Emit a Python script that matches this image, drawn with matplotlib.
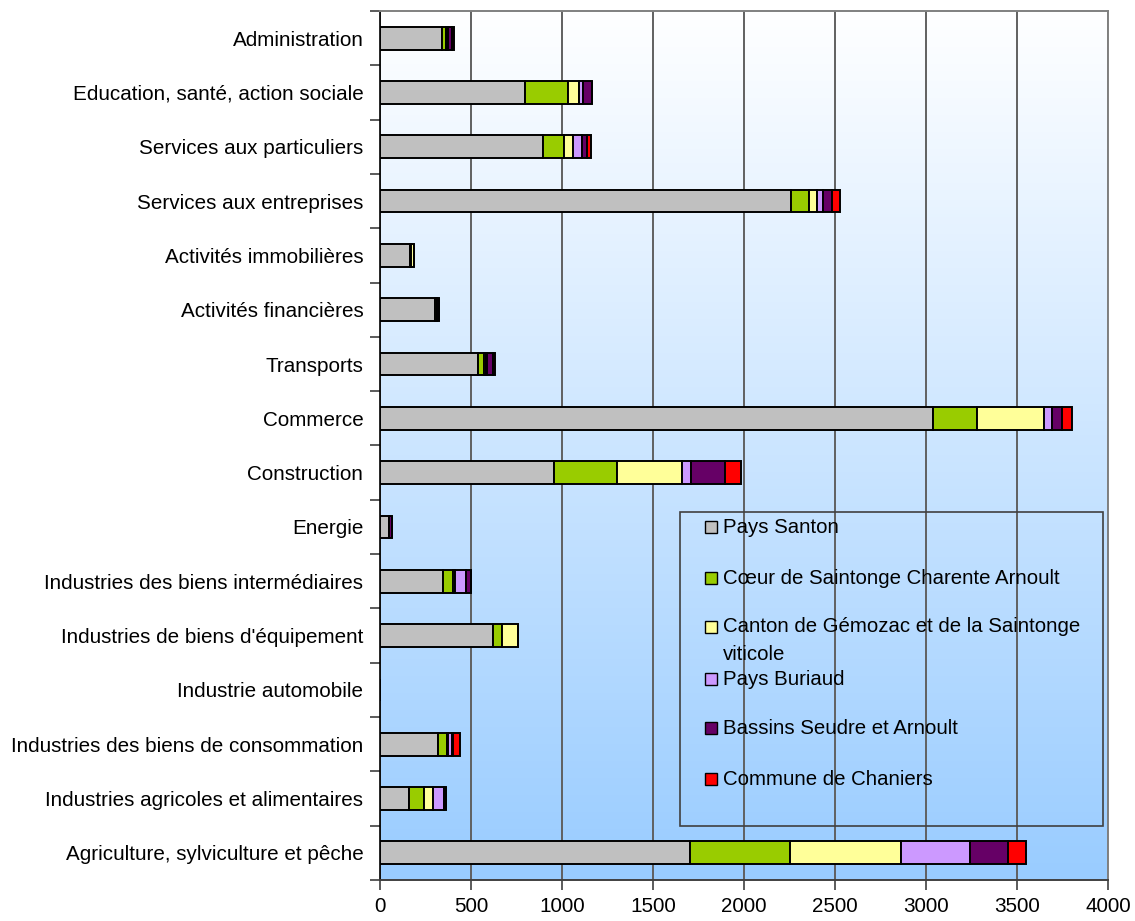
import numpy as np
import matplotlib.pyplot as plt
from matplotlib.patches import Rectangle

plt.rcParams['font.family'] = ['Liberation Sans', 'DejaVu Sans']

categories = [
    "Administration",
    "Education, santé, action sociale",
    "Services aux particuliers",
    "Services aux entreprises",
    "Activités immobilières",
    "Activités financières",
    "Transports",
    "Commerce",
    "Construction",
    "Energie",
    "Industries des biens intermédiaires",
    "Industries de biens d'équipement",
    "Industrie automobile",
    "Industries des biens de consommation",
    "Industries agricoles et alimentaires",
    "Agriculture, sylviculture et pêche",
]

pays_santon = [340, 795, 893, 2260, 163, 300, 538, 3036, 955, 50, 344, 620, 0, 318, 162, 1705]
coeur_saintonge = [22, 236, 120, 95, 10, 14, 35, 242, 346, 0, 58, 51, 0, 51, 78, 549]
canton_gemozac = [5, 63, 46, 44, 14, 0, 9, 368, 357, 0, 12, 89, 0, 5, 53, 609]
pays_buriaud = [4, 19, 52, 35, 0, 0, 5, 49, 53, 0, 58, 0, 0, 21, 60, 378]
bassins_seudre = [25, 53, 26, 51, 0, 10, 35, 54, 183, 15, 27, 0, 0, 5, 12, 212]
chaniers = [10, 0, 20, 44, 0, 0, 10, 53, 88, 0, 0, 0, 0, 40, 0, 96]

series = [
    ("Pays Santon", pays_santon, "#C0C0C0"),
    ("Cœur de Saintonge Charente Arnoult", coeur_saintonge, "#99CC00"),
    ("Canton de Gémozac et de la Saintonge\nviticole", canton_gemozac, "#FFFF99"),
    ("Pays Buriaud", pays_buriaud, "#CC99FF"),
    ("Bassins Seudre et Arnoult", bassins_seudre, "#660066"),
    ("Commune de Chaniers", chaniers, "#FF0000"),
]

W, H = 1135, 921
fig = plt.figure(figsize=(W / 100, H / 100), dpi=100)
ax = fig.add_axes([380 / W, 1 - 880 / H, (1108 - 380) / W, (880 - 11) / H])

# vertical white -> light blue gradient behind the plot
grad = np.linspace(0, 1, 256)[:, None]
top = np.array([1.0, 1.0, 1.0])
bot = np.array([0x99, 0xCC, 0xFF]) / 255
img = top[None, None, :] * (1 - grad[:, :, None]) + bot[None, None, :] * grad[:, :, None]
ax.imshow(img, extent=[0, 1, 0, 1], transform=ax.transAxes, aspect='auto', zorder=0)

y = np.arange(len(categories))
left = np.zeros(len(categories))
for name, vals, color in series:
    vals = np.array(vals, dtype=float)
    ax.barh(y, vals, left=left, height=0.42, color=color, edgecolor='black',
            linewidth=1.4, zorder=3)
    left += vals

ax.set_xlim(0, 4000)
ax.set_ylim(len(categories) - 0.5, -0.5)
ax.set_xticks(np.arange(0, 4001, 500))
ax.set_yticks(y)
ax.set_yticklabels(categories)
ax.set_yticks(np.arange(-0.5, len(categories), 1), minor=True)
ax.tick_params(axis='y', which='major', length=0, pad=12, labelsize=14.9)
ax.tick_params(axis='y', which='minor', length=7, width=1.2, color='#404040')
ax.tick_params(axis='x', length=7, width=1.2, color='#404040', labelsize=14.9, pad=5)

ax.grid(axis='x', color='#606060', lw=1.4, zorder=1)
for s in ('top', 'right'):
    ax.spines[s].set_color('#808080')
    ax.spines[s].set_linewidth(1.4)
ax.spines['left'].set_color('black')
ax.spines['left'].set_linewidth(1.2)
ax.spines['bottom'].set_color('#404040')
ax.spines['bottom'].set_linewidth(1.4)

# legend box, placed in figure pixels
def fx(px):
    return px / W

def fy(py):
    return 1 - py / H

fig.patches.append(Rectangle((fx(680), fy(826)), fx(1103) - fx(680), (826 - 512) / H,
                             transform=fig.transFigure, facecolor='none',
                             edgecolor='#404040', lw=1.2, zorder=5))
entry_y = [527, 578, 627, 679, 728, 779]
for (name, vals, color), ey in zip(series, entry_y):
    fig.patches.append(Rectangle((fx(705), fy(ey + 6)), 12 / W, 12 / H,
                                 transform=fig.transFigure, facecolor=color,
                                 edgecolor='black', lw=1.0, zorder=6))
    lines = name.split('\n')
    for k, line in enumerate(lines):
        fig.text(fx(723), fy(ey + 28 * k), line, fontsize=14.7,
                 va='center', ha='left', zorder=7)

fig.savefig('out.png', dpi=100)
